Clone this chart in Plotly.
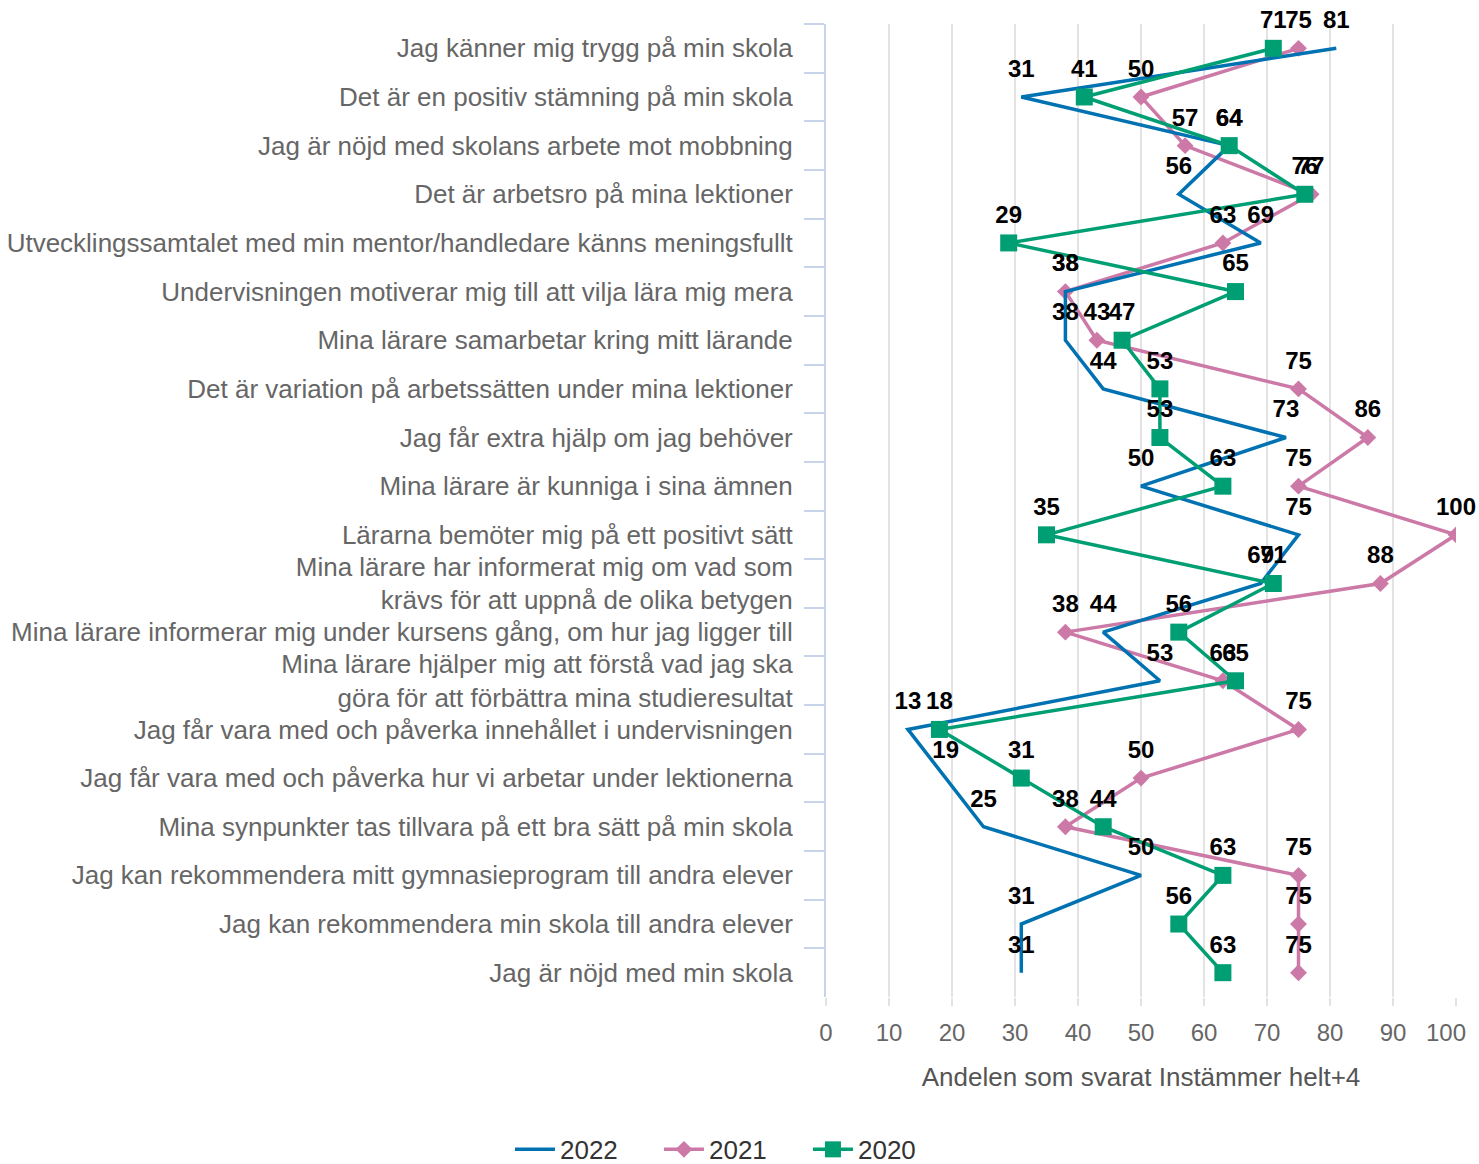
import plotly.graph_objects as go

categories = [
    "Jag känner mig trygg på min skola",
    "Det är en positiv stämning på min skola",
    "Jag är nöjd med skolans arbete mot mobbning",
    "Det är arbetsro på mina lektioner",
    "Utvecklingssamtalet med min mentor/handledare känns meningsfullt",
    "Undervisningen motiverar mig till att vilja lära mig mera",
    "Mina lärare samarbetar kring mitt lärande",
    "Det är variation på arbetssätten under mina lektioner",
    "Jag får extra hjälp om jag behöver",
    "Mina lärare är kunniga i sina ämnen",
    "Lärarna bemöter mig på ett positivt sätt",
    "Mina lärare har informerat mig om vad som<br>krävs för att uppnå de olika betygen",
    "Mina lärare informerar mig under kursens gång, om hur jag ligger till",
    "Mina lärare hjälper mig att förstå vad jag ska<br>göra för att förbättra mina studieresultat",
    "Jag får vara med och påverka innehållet i undervisningen",
    "Jag får vara med och påverka hur vi arbetar under lektionerna",
    "Mina synpunkter tas tillvara på ett bra sätt på min skola",
    "Jag kan rekommendera mitt gymnasieprogram till andra elever",
    "Jag kan rekommendera min skola till andra elever",
    "Jag är nöjd med min skola",
]

v2022 = [81, 31, 64, 56, 69, 38, 38, 44, 73, 50, 75, 69, 44, 53, 13, 19, 25, 50, 31, 31]
v2021 = [75, 50, 57, 77, 63, 38, 43, 75, 86, 75, 100, 88, 38, 63, 75, 50, 38, 75, 75, 75]
v2020 = [71, 41, 64, 76, 29, 65, 47, 53, 53, 63, 35, 71, 56, 65, 18, 31, 44, 63, 56, 63]

x_ticks = [0, 10, 20, 30, 40, 50, 60, 70, 80, 90, 100]
x_ticktext = ["0", "10", "20", "30", "40", "50", "60", "70", "80", "90", "100\u00a0\u00a0\u00a0"]
x_title = "Andelen som svarat Instämmer helt+4"

FONT = "Liberation Sans, Arial, sans-serif"
C2022, C2021, C2020 = "#0072B2", "#CC79A7", "#009E73"

fig = go.Figure()

series = [
    ("2021", v2021, C2021, "diamond", 13, 1, 2),
    ("2022", v2022, C2022, "circle", 17, 0, 1),
    ("2020", v2020, C2020, "square", 17, 1, 3),
]
for name, vals, col, sym, size, op, rank in series:
    fig.add_trace(go.Scatter(
        x=vals, y=categories, name=name, legendrank=rank,
        mode="lines+markers" if op else "lines",
        line=dict(color=col, width=3.5),
        marker=dict(symbol=sym, size=size, color=col),
        hoverinfo="skip",
    ))

for name, vals, col, sym, size, op, rank in series:
    fig.add_trace(go.Scatter(
        x=vals, y=categories, mode="markers+text", showlegend=False,
        text=[str(v) for v in vals], textposition="top center",
        textfont=dict(family=FONT, size=24, color="#000000", weight="bold"),
        marker=dict(size=21, opacity=0),
        hoverinfo="skip", cliponaxis=False,
    ))

fig.update_layout(
    width=1479, height=1164,
    margin=dict(l=826, r=23, t=24, b=167, autoexpand=False),
    paper_bgcolor="white", plot_bgcolor="white",
    font=dict(family=FONT, color="#666666"),
    showlegend=True,
    legend=dict(orientation="h", xref="container", yref="container",
                x=0.3448, y=0.0125, xanchor="left", yanchor="middle",
                font=dict(size=26, color="#333333"), itemwidth=40,
                entrywidth=94, entrywidthmode="pixels",
                tracegroupgap=0),
    xaxis=dict(range=[0, 100], tickvals=x_ticks, ticktext=x_ticktext,
               showgrid=True, gridcolor="#e3e3e3", gridwidth=2, zeroline=False,
               showline=False, ticks="outside", ticklen=8, tickcolor="#e3e3e3",
               tickwidth=2, tickfont=dict(size=24, color="#666666"),
               ticklabelstandoff=6, ticklabeloverflow="allow", automargin=False,
               title=dict(text=x_title, font=dict(size=26, color="#555555"), standoff=23)),
    yaxis=dict(categoryorder="array", categoryarray=categories, range=[19.5, -0.5],
               showline=True, linecolor="#c9d3ea", linewidth=2,
               ticks="outside", tickson="boundaries", ticklen=20, tickcolor="#c9d3ea",
               tickwidth=2, showgrid=False, tickfont=dict(size=26, color="#666666"),
               ticklabelstandoff=26, automargin=False),
)

fig.write_html("out.html", config={"displayModeBar": False},
               post_script="document.body.style.margin='0px';document.body.style.overflow='hidden';")
